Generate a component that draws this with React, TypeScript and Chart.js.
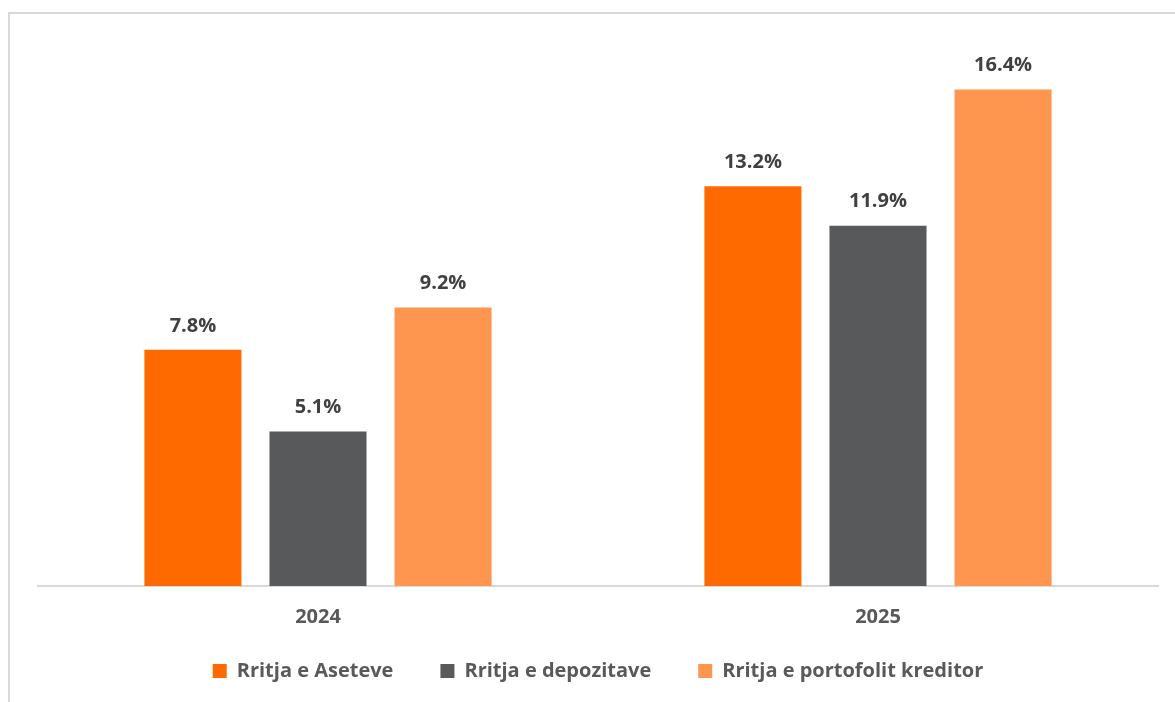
import React, { useEffect, useRef } from "react";
import { Chart, registerables } from "chart.js";

Chart.register(...registerables);

const categories = ["2024", "2025"];
const seriesNames = ["Rritja e Aseteve", "Rritja e depozitave", "Rritja e portofolit kreditor"];
const assets = [7.8, 13.2];
const deposits = [5.1, 11.9];
const loans = [9.2, 16.4];
const seriesColors = ["#FF6A00", "#58595B", "#FF9650"];

const FONT = "'Open Sans', sans-serif";

const valueLabels = {
  id: "valueLabels",
  afterDatasetsDraw(chart: any) {
    const ctx = chart.ctx;
    ctx.save();
    ctx.font = `bold 20px ${FONT}`;
    ctx.fillStyle = "#404040";
    ctx.textAlign = "center";
    ctx.textBaseline = "middle";
    chart.data.datasets.forEach((ds: any, i: number) => {
      const meta = chart.getDatasetMeta(i);
      meta.data.forEach((bar: any, j: number) => {
        ctx.fillText(ds.data[j].toFixed(1) + "%", bar.x, bar.y - 24);
      });
    });
    ctx.restore();
  },
};

// place the legend a fixed distance under the plot area, with room for its full height
const legendOffset = {
  id: "legendOffset",
  afterLayout(chart: any) {
    const lg = chart.legend;
    if (!lg) return;
    lg.top = chart.chartArea.bottom + 28;
    lg.bottom = lg.top + 90;
  },
};

export default function App() {
  const ref = useRef<HTMLCanvasElement>(null);
  useEffect(() => {
    if (!ref.current) return;
    const chart = new Chart(ref.current, {
      type: "bar",
      data: {
        labels: categories,
        datasets: [assets, deposits, loans].map((d, i) => ({
          label: seriesNames[i],
          data: d,
          backgroundColor: seriesColors[i],
          categoryPercentage: 0.67,
          barPercentage: 0.776,
        })),
      },
      options: {
        animation: false,
        responsive: false,
        maintainAspectRatio: false,
        layout: { padding: { left: 38, right: 17, top: 41, bottom: 0 } },
        scales: {
          x: {
            grid: { display: false, drawTicks: false },
            border: { display: true, color: "#D9D9D9", width: 2 },
            ticks: { color: "#595959", font: { family: FONT, size: 20, weight: "bold" }, padding: 19 },
          },
          y: { display: false, min: 0, max: 18 },
        },
        plugins: {
          legend: {
            position: "bottom",
            maxHeight: 54,
            labels: {
              color: "#595959",
              font: { family: FONT, size: 20, weight: "bold" },
              boxWidth: 14,
              boxHeight: 14,
              padding: 47,
            },
          },
          tooltip: { enabled: false },
        },
      },
      plugins: [valueLabels, legendOffset],
    });
    return () => chart.destroy();
  }, []);
  return (
    <div style={{ position: "fixed", left: 0, top: 0, width: 1175, height: 702, overflow: "hidden", background: "#fff" }}>
      <div
        style={{
          position: "absolute",
          left: 8,
          top: 12,
          width: 1200,
          height: 720,
          borderLeft: "2px solid #D9D9D9",
          borderTop: "2px solid #D9D9D9",
        }}
      />
      <canvas ref={ref} width={1175} height={702} style={{ position: "absolute", left: 0, top: 0 }} />
    </div>
  );
}
